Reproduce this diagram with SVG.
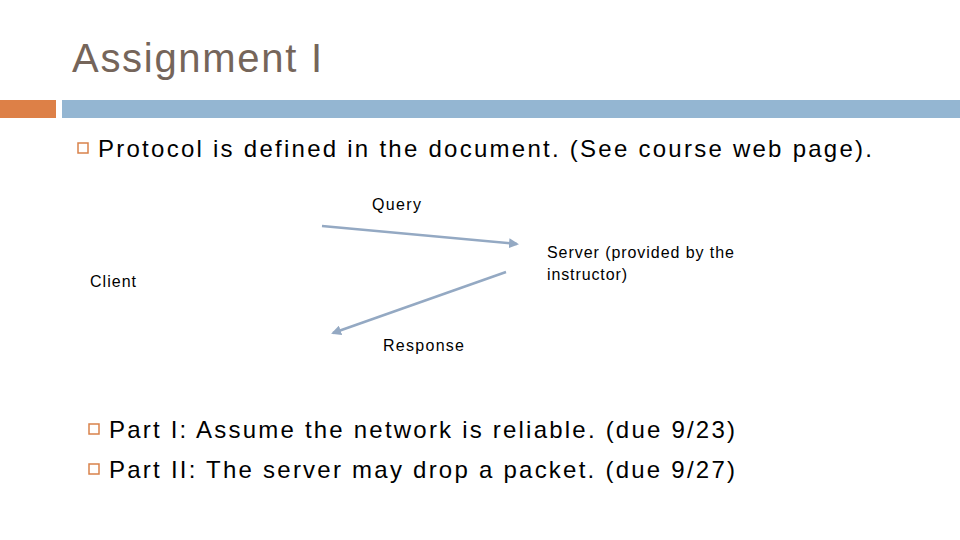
<svg xmlns="http://www.w3.org/2000/svg" width="960" height="540" viewBox="0 0 960 540">
<style>
text{font-family:"Liberation Sans",Arial,sans-serif;fill:#000}
.b{fill:none;stroke:#d9824b;stroke-width:1.5}
.c{stroke:#94a9c3;stroke-width:2.5;fill:none}
</style>
<defs><marker id="a" viewBox="0 0 10 10" refX="8" refY="5" markerWidth="4" markerHeight="4" orient="auto"><path d="M0,0L10,5L0,10z" fill="#94a9c3"/></marker></defs>
<rect width="960" height="540" fill="#fff"/>
<text x="72" y="72" font-size="40" textLength="250" style="fill:#75655a">Assignment I</text>
<rect x="0" y="100" width="56" height="18" fill="#dd8047"/>
<rect x="62" y="100" width="898" height="18" fill="#94b6d2"/>
<rect class="b" x="78" y="143" width="10" height="10"/>
<text x="98" y="157" font-size="24" textLength="774">Protocol is defined in the document. (See course web page).</text>
<g id="query"><text x="372" y="210" font-size="16" textLength="49">Query</text></g>
<g id="server"><text x="547" y="258" font-size="16" textLength="187">Server (provided by the</text><text x="547" y="280" font-size="16" textLength="80">instructor)</text></g>
<g id="client"><text x="90" y="287" font-size="16" textLength="46">Client</text></g>
<g id="response"><text x="383" y="351" font-size="16" textLength="81">Response</text></g>
<g id="connectors">
<line class="c" x1="322" y1="226" x2="517" y2="244" marker-end="url(#a)"/>
<line class="c" x1="506" y1="272" x2="333" y2="333" marker-end="url(#a)"/>
</g>
<rect class="b" x="89" y="424" width="10" height="10"/>
<rect class="b" x="89" y="464" width="10" height="10"/>
<text x="109" y="438" font-size="24" textLength="626">Part I: Assume the network is reliable. (due 9/23)</text>
<text x="109" y="478" font-size="24" textLength="626">Part II: The server may drop a packet. (due 9/27)</text>
</svg>
